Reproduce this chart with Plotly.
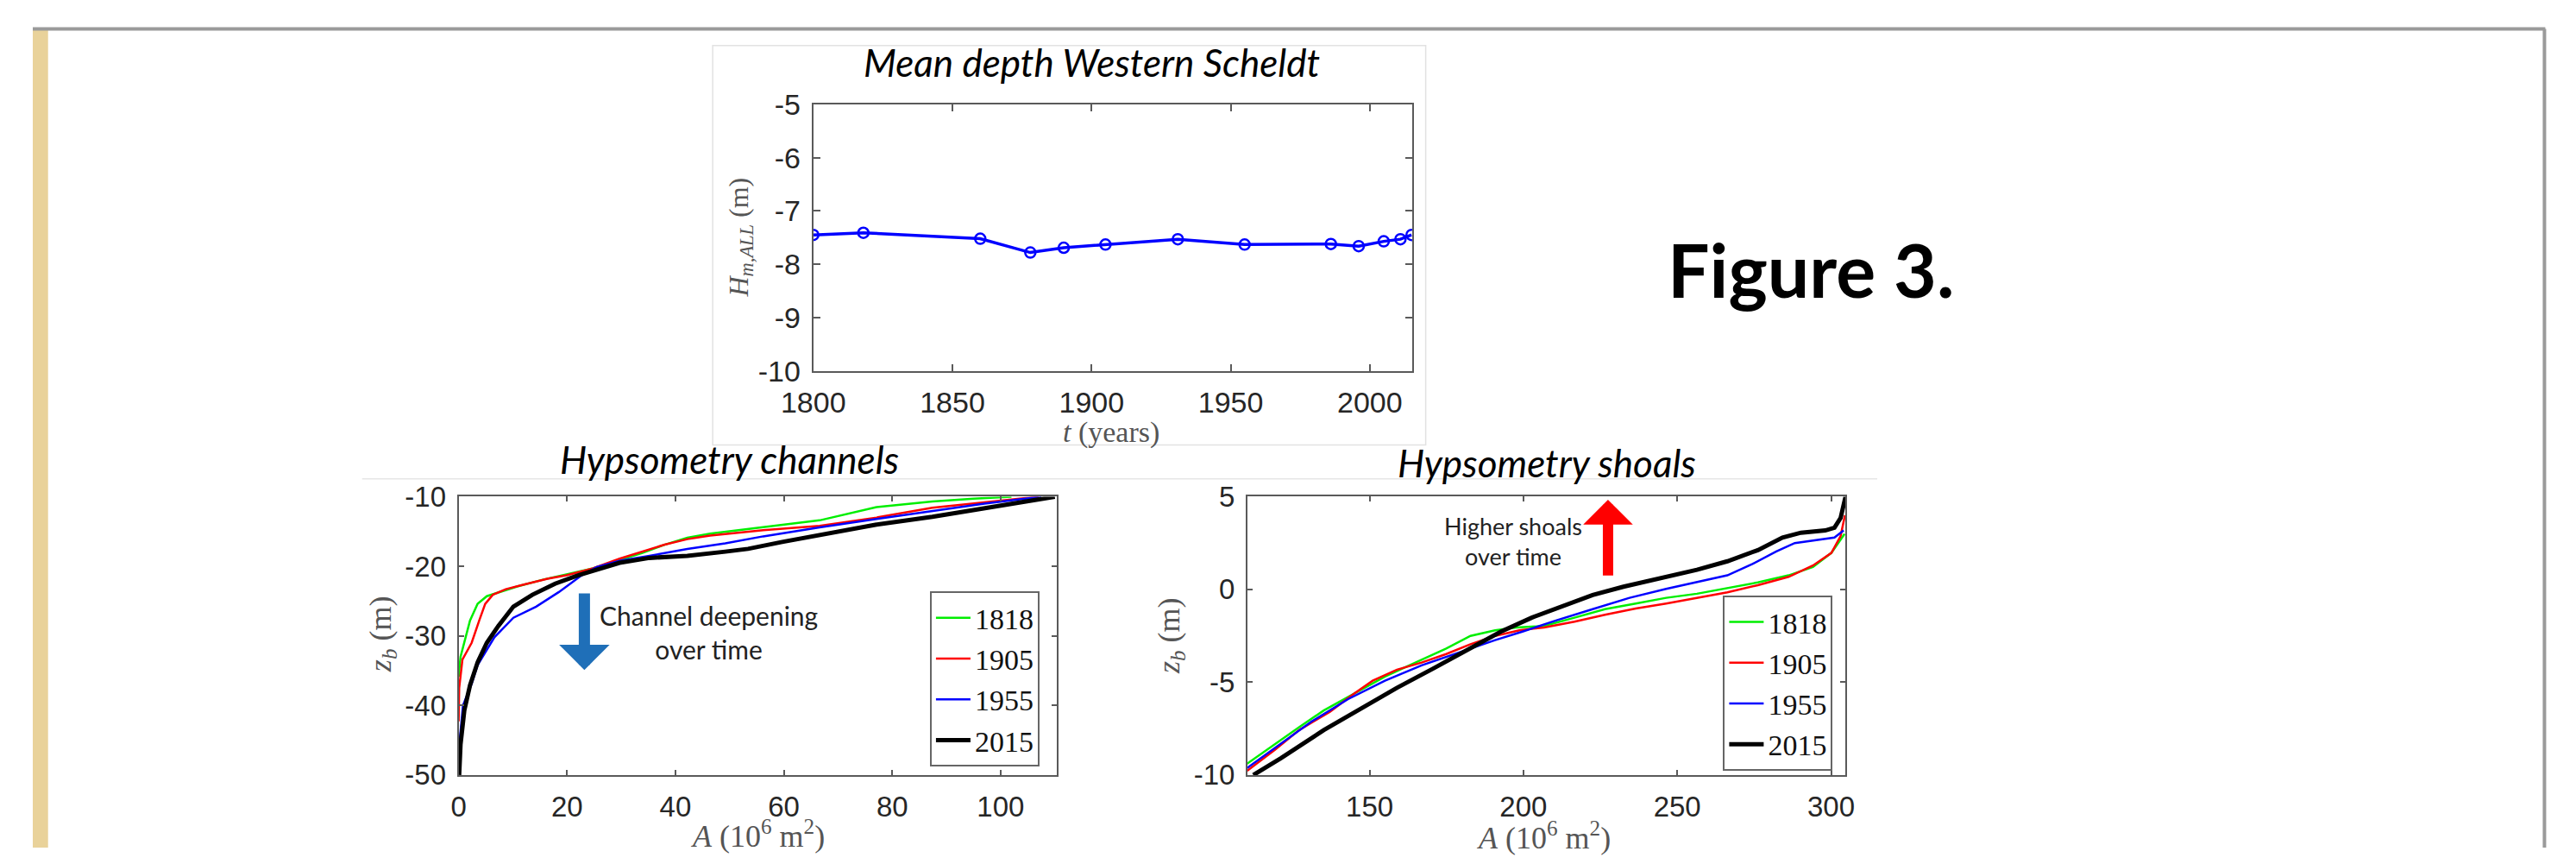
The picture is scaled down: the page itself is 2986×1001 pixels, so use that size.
import plotly.graph_objects as go

W, H = 2986, 1001

# ---------------- data ----------------
years = [1800, 1818, 1860, 1878, 1890, 1905, 1931, 1955, 1986, 1996, 2005, 2011, 2015]
mean_depth = [-7.45, -7.41, -7.52, -7.78, -7.69, -7.63, -7.53, -7.63, -7.62, -7.66, -7.57, -7.53, -7.45]

series_names = ["1818", "1905", "1955", "2015"]
series_colors = ["#00ee00", "#ff0000", "#0000ff", "#000000"]
series_widths = [2.5, 2.5, 2.5, 5]

ch_1818_A = [0, 0.35, 2.1, 3.5, 5.2, 7.3, 10.8, 15.7, 19.9, 24.8, 29.7, 33.8, 38.0, 42.2, 46.4, 56.2, 66.6, 77.1, 87.4, 95, 102]
ch_1818_z = [-35.9, -33.0, -27.8, -25.4, -24.3, -23.8, -22.9, -21.9, -21.2, -20.3, -19.1, -18.1, -16.9, -15.9, -15.3, -14.4, -13.4, -11.5, -10.7, -10.3, -10.0]
ch_1905_A = [0, 0.1, 0.7, 2.4, 3.8, 4.9, 6.3, 8.7, 12.2, 16.4, 19.9, 24.8, 29.7, 33.8, 38.0, 42.2, 46.4, 56.2, 66.6, 77.1, 87.4, 97, 107]
ch_1905_z = [-42.3, -37.5, -33.4, -31.0, -27.8, -25.4, -24.1, -23.3, -22.6, -21.8, -21.3, -20.3, -18.9, -17.9, -16.9, -16.1, -15.6, -14.8, -14.2, -13.0, -11.6, -10.8, -10.0]
ch_1955_A = [0.2, 0.8, 2.4, 3.5, 6.6, 10.1, 14.3, 18.5, 22.7, 25.5, 29.7, 35.2, 42.2, 49.2, 56.2, 66.6, 77.1, 87.4, 97, 107.5]
ch_1955_z = [-45, -40, -36.9, -34.2, -30.2, -27.4, -25.8, -23.7, -21.3, -20.1, -19.2, -18.5, -17.5, -16.7, -15.7, -14.4, -13.2, -12.1, -11.0, -10.0]
ch_2015_A = [0.1, 0.35, 1.05, 2.1, 3.5, 5.2, 7.3, 10.1, 13.6, 17.8, 22.0, 25.5, 29.7, 35.2, 42.2, 49.2, 53.4, 59.7, 66.6, 77.1, 87.4, 98, 110]
ch_2015_z = [-50, -45.6, -40.7, -37.1, -33.8, -31.0, -28.6, -25.8, -24.1, -22.5, -21.3, -20.5, -19.5, -18.8, -18.5, -17.9, -17.5, -16.5, -15.5, -14.0, -12.9, -11.5, -10.0]

sh_1818_A = [110.2, 119.2, 127.1, 135.1, 145.0, 155.0, 164.9, 174.9, 182.8, 190.8, 197.7, 206.7, 216.6, 226.5, 236.5, 246.4, 256.4, 266.3, 276.2, 286.2, 294.1, 300.1, 303.1, 304.4]
sh_1818_z = [-9.39, -8.33, -7.42, -6.52, -5.61, -4.70, -3.94, -3.18, -2.5, -2.2, -2.05, -1.97, -1.52, -1.06, -0.76, -0.45, -0.23, 0.08, 0.38, 0.76, 1.21, 1.97, 2.73, 3.0]
sh_1905_A = [110.2, 119.2, 127.1, 137.1, 145.0, 151.0, 158.9, 166.9, 174.9, 182.8, 190.8, 198.7, 206.7, 216.6, 226.5, 236.5, 246.4, 256.4, 266.3, 276.2, 286.2, 294.1, 300.1, 303.1, 304.5]
sh_1905_z = [-9.77, -8.64, -7.58, -6.59, -5.61, -4.92, -4.32, -3.94, -3.48, -2.95, -2.5, -2.2, -2.05, -1.74, -1.36, -1.03, -0.76, -0.45, -0.15, 0.23, 0.68, 1.29, 1.97, 2.88, 4.0]
sh_1955_A = [110.2, 119.2, 131.1, 143.0, 155.0, 166.9, 178.8, 190.8, 199.7, 210.6, 222.5, 234.5, 246.4, 258.3, 266.3, 274.3, 282.2, 288.2, 294.1, 301.1, 304.1]
sh_1955_z = [-9.62, -8.56, -7.12, -5.91, -4.92, -4.09, -3.41, -2.73, -2.27, -1.67, -1.06, -0.45, 0.03, 0.45, 0.76, 1.36, 2.05, 2.5, 2.65, 2.80, 3.18]
sh_2015_A = [112.2, 121.2, 135.1, 147.0, 158.9, 170.9, 182.8, 192.7, 202.7, 212.6, 222.5, 232.5, 244.4, 256.4, 266.3, 276.2, 284.2, 290.2, 298.1, 301.1, 303.1, 304.7]
sh_2015_z = [-10.0, -9.09, -7.58, -6.44, -5.30, -4.24, -3.18, -2.27, -1.52, -0.91, -0.30, 0.15, 0.61, 1.06, 1.52, 2.12, 2.80, 3.06, 3.18, 3.33, 3.86, 5.0]

top_xticks = [1800, 1850, 1900, 1950, 2000]
top_yticks = [-5, -6, -7, -8, -9, -10]
ch_xticks = [0, 20, 40, 60, 80, 100]
ch_yticks = [-10, -20, -30, -40, -50]
sh_xticks = [150, 200, 250, 300]
sh_yticks = [5, 0, -5, -10]

ch_A = [ch_1818_A, ch_1905_A, ch_1955_A, ch_2015_A]
ch_z = [ch_1818_z, ch_1905_z, ch_1955_z, ch_2015_z]
sh_A = [sh_1818_A, sh_1905_A, sh_1955_A, sh_2015_A]
sh_z = [sh_1818_z, sh_1905_z, sh_1955_z, sh_2015_z]

# ---------------- helpers ----------------
def px(x):
    return x / W

def py(y):
    return 1 - y / H

def labels(vals):
    return [str(v) for v in vals]

AX_COL = "#5a5a5a"
TICK_FONT = dict(family="Liberation Sans, Arial, sans-serif", size=33, color="#262626")


def axis(domain, rng, ticks, anchor, ticklen=6, size=33):
    return dict(domain=domain, range=rng, tickvals=ticks, ticktext=labels(ticks),
                showline=True, mirror="ticks", linecolor=AX_COL, linewidth=2,
                ticks="inside", ticklen=ticklen, tickwidth=1.5, tickcolor=AX_COL,
                showgrid=False, zeroline=False, anchor=anchor, fixedrange=True,
                tickfont=dict(TICK_FONT, size=size), ticklabelstandoff=6)


fig = go.Figure()

# top panel
fig.add_trace(go.Scatter(x=years, y=mean_depth, mode="lines+markers", xaxis="x", yaxis="y",
                         line=dict(color="#0000ff", width=3.5),
                         marker=dict(symbol="circle-open", size=12, line=dict(width=2.5, color="#0000ff")),
                         showlegend=False))

for i, name in enumerate(series_names):
    fig.add_trace(go.Scatter(x=ch_A[i], y=ch_z[i], mode="lines", name=name, xaxis="x2", yaxis="y2",
                             line=dict(color=series_colors[i], width=series_widths[i]), legend="legend"))
for i, name in enumerate(series_names):
    fig.add_trace(go.Scatter(x=sh_A[i], y=sh_z[i], mode="lines", name=name, xaxis="x3", yaxis="y3",
                             line=dict(color=series_colors[i], width=series_widths[i]), legend="legend2"))

legend_common = dict(font=dict(family="Liberation Serif, Times New Roman, serif", size=34, color="#111"),
                     bgcolor="#ffffff", bordercolor="#666", borderwidth=2,
                     xref="paper", yref="paper", xanchor="right", yanchor="bottom",
                     tracegroupgap=0, itemwidth=40)

shapes = [
    # beige left strip
    dict(type="rect", xref="paper", yref="paper", x0=0, x1=px(18), y0=0, y1=py(16),
         fillcolor="#e9d29a", line=dict(width=0), layer="below"),
    # top slide line
    dict(type="line", xref="paper", yref="paper", x0=0, x1=px(2960), y0=py(15), y1=py(15),
         line=dict(color="#9a9a9a", width=4)),
    # right slide line
    dict(type="line", xref="paper", yref="paper", x0=px(2959), x1=px(2959), y0=py(15), y1=0,
         line=dict(color="#9a9a9a", width=4)),
    # top panel frame
    dict(type="rect", xref="paper", yref="paper", x0=px(801), x1=px(1641), y0=py(516), y1=py(35),
         line=dict(color="#e2e2e2", width=1.5), layer="below"),
    # faint separator line
    dict(type="line", xref="paper", yref="paper", x0=px(388), x1=px(2173), y0=py(557), y1=py(557),
         line=dict(color="#e6e6e6", width=1.5)),
]

SERIF = "Liberation Serif, Times New Roman, serif"
CAL = "Lato, Carlito, Calibri, sans-serif"


def ann(x, y, text, size, family=CAL, color="#000", angle=0):
    return dict(xref="paper", yref="paper", x=px(x), y=py(y), text=text, showarrow=False,
                font=dict(family=family, size=size, color=color), textangle=angle,
                xanchor="center", yanchor="middle")


annotations = [
    ann(1248, 55, "<i>Mean depth Western Scheldt</i>", 44),
    ann(2095, 304, "<b>Figure 3.</b>", 86),
    ann(821, 533, "<i>Hypsometry channels</i>", 44),
    ann(1784, 537, "<i>Hypsometry shoals</i>", 44),
    ann(834, 266, "<i>H</i><sub><i>m,ALL</i></sub> (m)", 32, SERIF, "#555", -90),
    ann(1270, 501, "<i>t</i> (years)", 34, SERIF, "#555"),
    ann(412, 744, "<i>z<sub>b</sub></i> (m)", 36, SERIF, "#555", -90),
    ann(854, 985, "<i>A</i> (10<sup>6</sup> m<sup>2</sup>)", 36, SERIF, "#555"),
    ann(1341, 746, "<i>z<sub>b</sub></i> (m)", 36, SERIF, "#555", -90),
    ann(1780, 987, "<i>A</i> (10<sup>6</sup> m<sup>2</sup>)", 36, SERIF, "#555"),
    ann(796, 742, "Channel deepening<br>over time", 30, CAL, "#222"),
    ann(1744, 632, "Higher shoals<br>over time", 27, CAL, "#222"),
    # arrows
    dict(xref="x2", yref="y2", axref="x2", ayref="y2", x=23.2, y=-34.9, ax=23.2, ay=-23.7,
         text="", showarrow=True, arrowhead=1, arrowsize=0.75, arrowwidth=13, arrowcolor="#1f6fb8"),
    dict(xref="x3", yref="y3", axref="x3", ayref="y3", x=227.5, y=4.84, ax=227.5, ay=0.68,
         text="", showarrow=True, arrowhead=1, arrowsize=0.8, arrowwidth=12, arrowcolor="#ff0000"),
]

fig.update_layout(
    width=W, height=H, margin=dict(l=0, r=0, t=0, b=0),
    paper_bgcolor="#ffffff", plot_bgcolor="#ffffff",
    xaxis=axis([px(919.5), px(1625)], [1800, 2015.2], top_xticks, "y", 8, 34),
    yaxis=axis([py(426.8), py(106)], [-10, -5], top_yticks, "x", 8, 34),
    xaxis2=axis([px(501.7), px(1206)], [0, 110.3], ch_xticks, "y2", 6),
    yaxis2=axis([py(913.6), py(578.4)], [-50, -10], ch_yticks, "x2", 6),
    xaxis3=axis([px(1431), px(2135.6)], [110.3, 304.7], sh_xticks, "y3", 6),
    yaxis3=axis([py(913.6), py(578.4)], [-10, 5], sh_yticks, "x3", 6),
    legend=dict(legend_common, x=px(1186), y=py(903.5)),
    legend2=dict(legend_common, x=px(2120.5), y=py(908.5)),
    shapes=shapes, annotations=annotations,
)

fig.write_html("out.html", config={"displayModeBar": False},
               post_script="document.body.style.margin='0';document.body.style.overflow='hidden';")
